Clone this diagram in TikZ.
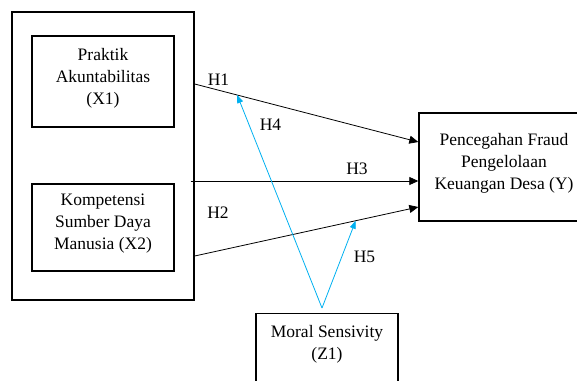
\documentclass[tikz,border=0pt]{standalone}
\usepackage{fontspec}
\setmainfont{Liberation Serif}
\usetikzlibrary{arrows.meta}
\definecolor{modblue}{RGB}{0,176,240}

\begin{document}
\begin{tikzpicture}[x=1pt,y=-1pt,
  every node/.style={font=\fontsize{17.5}{22}\selectfont},
  box/.style={draw,line width=1.4pt,align=center,inner sep=0pt},
  hyp/.style={inner sep=0pt,align=center},
  boxtext/.style={hyp,yshift=3.5pt},
  link/.style={-{Triangle[length=9pt,width=8pt]},line width=.8pt},
  modlink/.style={-{Triangle[length=8pt,width=6pt]},line width=.8pt,modblue}]
  \useasboundingbox (0,0) rectangle (577,380);
  % variables
  \node[box,minimum width=182pt,minimum height=288pt] (outer) at (103,156) {};
  \node[box,minimum width=142pt,minimum height=91pt,
    label={[boxtext]center:Praktik\\Akuntabilitas\\(X1)}] (x1) at (103,81.5) {};
  \node[box,minimum width=142pt,minimum height=87pt,
    label={[boxtext]center:Kompetensi\\Sumber Daya\\Manusia (X2)}] (x2) at (103,227.5) {};
  \node[box,minimum width=170pt,minimum height=108pt,
    label={[boxtext]center:Pencegahan Fraud\\Pengelolaan\\Keuangan Desa (Y)}] (ybox) at (504,167) {};
  \node[box,anchor=north,minimum width=142pt,minimum height=100pt] (zbox) at (327,313) {};
  \node[hyp] (ztext) at (327,344) {Moral Sensivity\\(Z1)};
  % direct paths
  \draw[link] ([yshift=72pt]outer.east) -- coordinate[pos=.19] (m1) ([yshift=25pt]ybox.west);
  \draw[link] ([xshift=-4pt,yshift=-25pt]outer.east) -- ([yshift=-14pt]ybox.west);
  \draw[link] ([yshift=-100pt]outer.east) -- coordinate[pos=.72] (m2) ([yshift=-40pt]ybox.west);
  % moderation
  \draw[modlink] ([xshift=-5pt,yshift=5pt]zbox.north) -- (m1);
  \draw[modlink] ([xshift=-5pt,yshift=5pt]zbox.north) -- (m2);
  % labels
  \node[hyp] (h1) at (218.5,79.5) {H1};
  \node[hyp] (h2) at (218,213) {H2};
  \node[hyp] (h3) at (357,168.5) {H3};
  \node[hyp] (h4) at (270.5,124.5) {H4};
  \node[hyp] (h5) at (364.5,257) {H5};
\end{tikzpicture}
\end{document}
